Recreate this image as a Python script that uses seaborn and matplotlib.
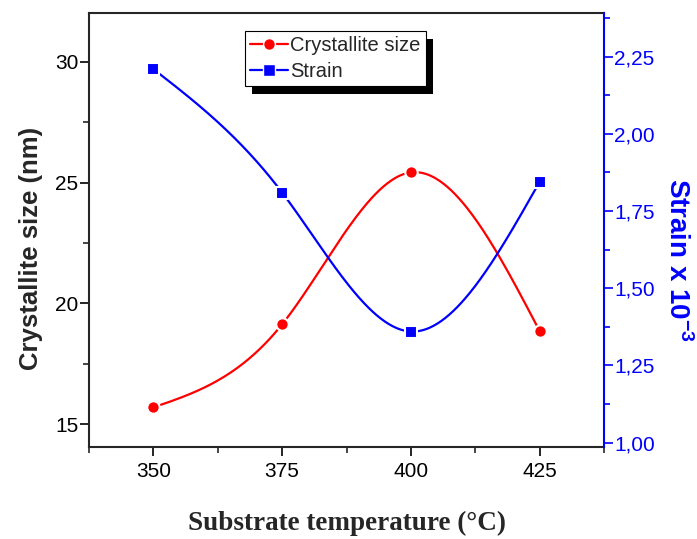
import numpy as np
import pandas as pd
import matplotlib
matplotlib.use("Agg")
import matplotlib.pyplot as plt
from matplotlib.lines import Line2D
from matplotlib.patches import Rectangle
from matplotlib.ticker import MultipleLocator, FuncFormatter
import seaborn as sns

# ---- data ----
temperature = [350, 375, 400, 425]
crystallite_size = [15.69, 19.13, 25.42, 18.85]
strain = [2.21, 1.81, 1.36, 1.845]
x_ticks = [350, 375, 400, 425]
left_ticks = [15, 20, 25, 30]
right_ticks = [1.00, 1.25, 1.50, 1.75, 2.00, 2.25]


def natural_spline(x, y, n=300):
    x = np.asarray(x, float)
    y = np.asarray(y, float)
    m = len(x)
    h = np.diff(x)
    A = np.zeros((m, m))
    b = np.zeros(m)
    A[0, 0] = 1
    A[-1, -1] = 1
    for i in range(1, m - 1):
        A[i, i - 1] = h[i - 1]
        A[i, i] = 2 * (h[i - 1] + h[i])
        A[i, i + 1] = h[i]
        b[i] = 3 * ((y[i + 1] - y[i]) / h[i] - (y[i] - y[i - 1]) / h[i - 1])
    c = np.linalg.solve(A, b)
    xs = np.linspace(x[0], x[-1], n)
    ys = np.empty_like(xs)
    for k, xv in enumerate(xs):
        i = min(np.searchsorted(x, xv, side="right") - 1, m - 2)
        bi = (y[i + 1] - y[i]) / h[i] - h[i] * (2 * c[i] + c[i + 1]) / 3
        di = (c[i + 1] - c[i]) / (3 * h[i])
        t = xv - x[i]
        ys[k] = y[i] + bi * t + c[i] * t ** 2 + di * t ** 3
    return xs, ys


sns.set_style("ticks")
plt.rcParams["font.family"] = ["Liberation Sans", "DejaVu Sans"]
plt.rcParams["mathtext.fontset"] = "custom"
plt.rcParams["mathtext.bf"] = "Liberation Sans:bold"
plt.rcParams["mathtext.rm"] = "Liberation Sans"

fig = plt.figure(figsize=(6.97, 5.39), dpi=100)
ax = fig.add_axes([0.1277, 0.1707, 0.8666 - 0.1277, 0.975 - 0.1707])
ax2 = ax.twinx()

red = "#ff0000"
blue = "#0000ff"

df = pd.DataFrame({"T": temperature, "size": crystallite_size, "strain": strain})
xs, ys_r = natural_spline(temperature, crystallite_size)
_, ys_b = natural_spline(temperature, strain)
curve = pd.DataFrame({"T": xs, "size": ys_r, "strain": ys_b})

sns.lineplot(data=curve, x="T", y="size", ax=ax, color=red, lw=1.6, zorder=2)
sns.scatterplot(data=df, x="T", y="size", ax=ax, color=red, marker="o", s=80,
                edgecolor="white", linewidth=1.5, zorder=3)
sns.lineplot(data=curve, x="T", y="strain", ax=ax2, color=blue, lw=1.6, zorder=2)
sns.scatterplot(data=df, x="T", y="strain", ax=ax2, color=blue, marker="s", s=75,
                edgecolor="white", linewidth=1.5, zorder=3)

ax.set_xlim(337.5, 437.5)
ax.set_ylim(14.05, 32.0)
ax2.set_ylim(0.986, 2.39)

ax.set_xticks(x_ticks)
ax.xaxis.set_minor_locator(MultipleLocator(12.5))
ax.set_yticks(left_ticks)
ax.yaxis.set_minor_locator(MultipleLocator(2.5))
ax2.set_yticks(right_ticks)
ax2.yaxis.set_minor_locator(MultipleLocator(0.125))
ax2.yaxis.set_major_formatter(FuncFormatter(lambda v, p: f"{v:.2f}".replace(".", ",")))

for a in (ax, ax2):
    for s in a.spines.values():
        s.set_linewidth(1.5)
        s.set_visible(True)
ax.spines["right"].set_visible(False)
ax2.spines["left"].set_visible(False)
ax2.spines["top"].set_visible(False)
ax2.spines["bottom"].set_visible(False)
ax2.spines["right"].set_color(blue)

ax.tick_params(axis="both", which="major", direction="out", length=6.5, width=1.2,
               labelsize=15, pad=1, colors="black")
ax.tick_params(axis="both", which="minor", direction="out", length=4, width=1.2)
ax.tick_params(axis="x", pad=4)
ax.tick_params(top=False, right=False, which="both")
ax2.tick_params(axis="y", which="major", direction="out", length=6.5, width=1.2,
                labelsize=15, pad=1, colors=blue)
ax2.tick_params(axis="y", which="minor", direction="out", length=4, width=1.2, colors=blue)

ax.set_xlabel("Substrate temperature (°C)", fontsize=19.5, fontweight="bold",
              family="Liberation Serif", labelpad=22)
ax.set_ylabel("Crystallite size (nm)", fontsize=18.5, fontweight="bold")
ax.yaxis.set_label_coords(-0.089, 0.4585)
ax2.set_ylabel(r"Strain x 10$^{\mathbf{-3}}$", fontsize=20, fontweight="bold", color=blue,
               rotation=270, va="center")
ax2.yaxis.set_label_coords(1.142, 0.431)

handles = [
    Line2D([], [], color=red, lw=1.6, marker="o", markersize=8.5,
           markeredgecolor="white", markeredgewidth=1.0),
    Line2D([], [], color=blue, lw=1.6, marker="s", markersize=8,
           markeredgecolor="white", markeredgewidth=1.0),
]
leg = fig.legend(handles, ["Crystallite size", "Strain"], loc="upper left",
                 bbox_to_anchor=(245 / 697, 1 - 31 / 539), fontsize=14.5,
                 frameon=True, fancybox=False, edgecolor="black", framealpha=1,
                 handlelength=1.9, handletextpad=0.1, borderpad=0.25,
                 labelspacing=0.35, borderaxespad=0)
leg.get_frame().set_linewidth(0.8)
leg.set_zorder(10)

fig.canvas.draw()
bb = leg.get_frame().get_window_extent().transformed(fig.transFigure.inverted())
off_x = 7 / 697
off_y = 8 / 539
fig.add_artist(Rectangle((bb.x0 + off_x, bb.y0 - off_y), bb.width, bb.height,
                         transform=fig.transFigure, facecolor="black",
                         edgecolor="none", zorder=9))

fig.savefig("out.png", dpi=100)
